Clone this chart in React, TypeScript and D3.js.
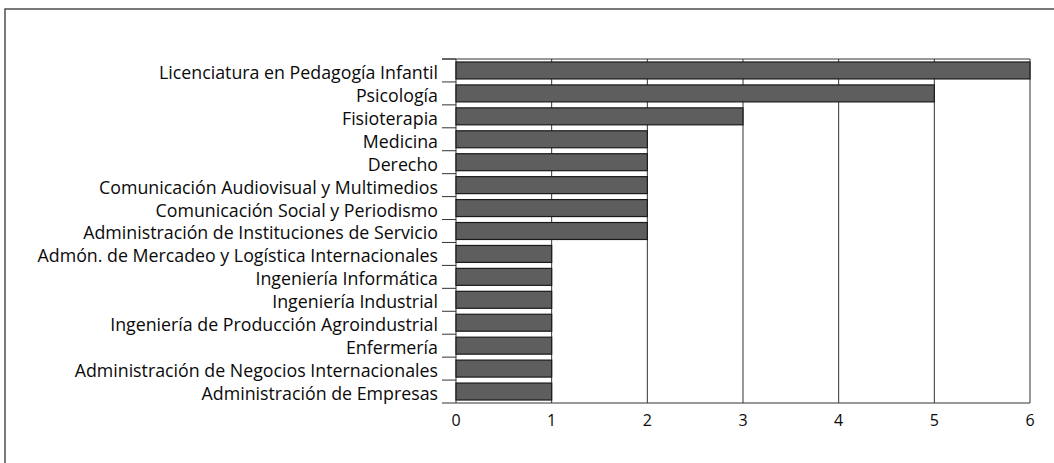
import React, { useRef, useEffect } from 'react';
import * as d3 from 'd3';

const carreras = [
  'Licenciatura en Pedagogía Infantil',
  'Psicología',
  'Fisioterapia',
  'Medicina',
  'Derecho',
  'Comunicación Audiovisual y Multimedios',
  'Comunicación Social y Periodismo',
  'Administración de Instituciones de Servicio',
  'Admón. de Mercadeo y Logística Internacionales',
  'Ingeniería Informática',
  'Ingeniería Industrial',
  'Ingeniería de Producción Agroindustrial',
  'Enfermería',
  'Administración de Negocios Internacionales',
  'Administración de Empresas',
];
const valores = [6, 5, 3, 2, 2, 2, 2, 2, 1, 1, 1, 1, 1, 1, 1];
const ticksX = [0, 1, 2, 3, 4, 5, 6];

const App = () => {
  const Svg = useRef<SVGSVGElement>(null);

  useEffect(() => {
    const width = 1054;
    const height = 463;
    const left = 456;
    const right = 1030;
    const top = 59;
    const bottom = 403;

    const svg = d3.select(Svg.current).attr('width', width).attr('height', height);
    svg.selectAll('*').remove();

    // marco exterior
    svg
      .append('rect')
      .attr('x', 5)
      .attr('y', 9)
      .attr('width', 1100)
      .attr('height', 500)
      .attr('fill', 'white')
      .attr('stroke', '#333')
      .attr('stroke-width', 1.3);

    const xScale = d3.scaleLinear().domain([0, 6]).range([left, right]);
    const yScale = d3
      .scaleBand<number>()
      .domain(d3.range(carreras.length))
      .range([top, bottom])
      .paddingInner(0.26)
      .paddingOuter(0.13);
    const step = yScale.step();

    // lineas de la rejilla
    svg
      .append('g')
      .selectAll('line')
      .data(ticksX.slice(1))
      .enter()
      .append('line')
      .attr('x1', (d) => xScale(d))
      .attr('x2', (d) => xScale(d))
      .attr('y1', top)
      .attr('y2', bottom)
      .attr('stroke', '#333')
      .attr('stroke-width', 1);

    svg
      .append('line')
      .attr('x1', left - 14)
      .attr('x2', right)
      .attr('y1', top)
      .attr('y2', top)
      .attr('stroke', '#333');

    svg
      .append('line')
      .attr('x1', left)
      .attr('x2', right)
      .attr('y1', bottom)
      .attr('y2', bottom)
      .attr('stroke', '#333');

    svg
      .append('line')
      .attr('x1', left)
      .attr('x2', left)
      .attr('y1', top)
      .attr('y2', bottom)
      .attr('stroke', '#333');

    // marcas del eje y
    svg
      .append('g')
      .selectAll('line')
      .data(d3.range(carreras.length + 1))
      .enter()
      .append('line')
      .attr('x1', left - 14)
      .attr('x2', left)
      .attr('y1', (i) => top + i * step)
      .attr('y2', (i) => top + i * step)
      .attr('stroke', '#333');

    // barras
    svg
      .append('g')
      .selectAll('rect')
      .data(valores)
      .enter()
      .append('rect')
      .attr('x', xScale(0))
      .attr('y', (d, i) => yScale(i))
      .attr('width', (d) => xScale(d) - xScale(0))
      .attr('height', yScale.bandwidth())
      .attr('fill', '#5e5e5e')
      .attr('stroke', '#1a1a1a')
      .attr('stroke-width', 1.2);

    // etiquetas
    svg
      .append('g')
      .selectAll('text')
      .data(carreras)
      .enter()
      .append('text')
      .text((d) => d)
      .attr('x', left - 18)
      .attr('y', (d, i) => top + (i + 1) * step - 3)
      .attr('text-anchor', 'end')
      .attr('font-family', '"Open Sans", sans-serif')
      .attr('font-size', 17.8)
      .attr('fill', '#0a0a0a');

    svg
      .append('g')
      .selectAll('text')
      .data(ticksX)
      .enter()
      .append('text')
      .text((d) => d)
      .attr('x', (d) => xScale(d))
      .attr('y', 426)
      .attr('text-anchor', 'middle')
      .attr('font-family', '"Open Sans", sans-serif')
      .attr('font-size', 16)
      .attr('fill', '#0a0a0a');
  }, []);

  return <svg ref={Svg} style={{ position: 'absolute', left: 0, top: 0 }} />;
};

export default App;
